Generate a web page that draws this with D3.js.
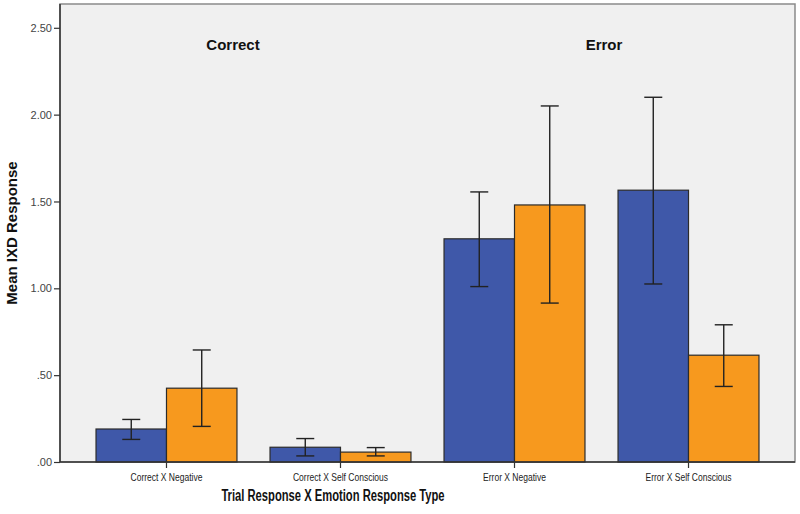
<!DOCTYPE html>
<html lang="en">
  <head>
    <meta charset="UTF-8">
    <title>Mean IXD Response</title>
    <style>
body {margin: 0; background: #fff;}
text {font-family: "Liberation Sans", Arial, sans-serif;}
</style>
  </head>
  <body>
<div id="my_dataviz"></div>
<script src="https://d3js.org/d3.v7.min.js"></script>
<script>

// categories and series
var categories = ["Correct X Negative", "Correct X Self Conscious", "Error X Negative", "Error X Self Conscious"];
var series = ["blue", "orange"];

var blueMean = [0.19, 0.085, 1.285, 1.565];
var blueLow = [0.13, 0.035, 1.01, 1.025];
var blueHigh = [0.245, 0.135, 1.555, 2.10];

var orangeMean = [0.425, 0.057, 1.48, 0.615];
var orangeLow = [0.205, 0.035, 0.915, 0.435];
var orangeHigh = [0.645, 0.083, 2.05, 0.79];

var yTicks = [0, 0.5, 1.0, 1.5, 2.0, 2.5];

var groupLabels = [
  {text: "Correct", x: 233},
  {text: "Error", x: 604}
];

var colors = {blue: "#3f58a9", orange: "#f7991e"};

// build the rows
var rows = [];
categories.forEach(function(c, i) {
  rows.push({cat: c, s: "blue", mean: blueMean[i], low: blueLow[i], high: blueHigh[i]});
  rows.push({cat: c, s: "orange", mean: orangeMean[i], low: orangeLow[i], high: orangeHigh[i]});
});

var W = 800, H = 514;
var plot = {left: 60, right: 795, top: 4, bottom: 462};

// squeeze a text so it looks like a condensed face
function condense(sel, k) {
  sel.each(function() {
    var w = this.getComputedTextLength();
    d3.select(this).attr("textLength", w * k).attr("lengthAdjust", "spacingAndGlyphs");
  });
}

var svg = d3.select("#my_dataviz")
  .append("svg")
    .attr("width", W)
    .attr("height", H);

// panel
svg.append("rect")
  .attr("x", plot.left).attr("y", plot.top)
  .attr("width", plot.right - plot.left).attr("height", plot.bottom - plot.top)
  .attr("fill", "#f0f0f0")
  .attr("stroke", "#8a8a8a")
  .attr("stroke-width", 1.5);

var x = d3.scaleBand()
  .domain(categories)
  .range([plot.left, plot.right])
  .paddingInner(0.19)
  .paddingOuter(0.207);

var xs = d3.scaleBand()
  .domain(series)
  .range([0, x.bandwidth()]);

var y = d3.scaleLinear()
  .domain([0, 2.637])
  .range([plot.bottom, plot.top]);

// group titles
svg.selectAll(".grp")
  .data(groupLabels)
  .enter()
  .append("text")
    .attr("x", function(d) { return d.x; })
    .attr("y", 50)
    .attr("text-anchor", "middle")
    .style("font-weight", "bold")
    .style("font-size", "15px")
    .attr("fill", "#111")
    .text(function(d) { return d.text; });

// bars
svg.selectAll(".bar")
  .data(rows)
  .enter()
  .append("rect")
    .attr("x", function(d) { return x(d.cat) + xs(d.s); })
    .attr("y", function(d) { return y(d.mean); })
    .attr("width", xs.bandwidth())
    .attr("height", function(d) { return y(0) - y(d.mean); })
    .attr("fill", function(d) { return colors[d.s]; })
    .attr("stroke", "#2b2b2b")
    .attr("stroke-width", 1.2);

// error bars
var eb = svg.selectAll(".err")
  .data(rows)
  .enter()
  .append("g")
    .attr("transform", function(d) { return "translate(" + (x(d.cat) + xs(d.s) + xs.bandwidth() / 2) + ",0)"; })
    .attr("stroke", "#222")
    .attr("stroke-width", 1.4);

eb.append("line")
  .attr("y1", function(d) { return y(d.low); })
  .attr("y2", function(d) { return y(d.high); });
eb.append("line")
  .attr("x1", -9).attr("x2", 9)
  .attr("y1", function(d) { return y(d.high); })
  .attr("y2", function(d) { return y(d.high); });
eb.append("line")
  .attr("x1", -9).attr("x2", 9)
  .attr("y1", function(d) { return y(d.low); })
  .attr("y2", function(d) { return y(d.low); });

// Y axis
var fmt = function(v) { return d3.format(".2f")(v).replace(/^0/, ""); };
var yAxis = svg.append("g")
  .attr("transform", "translate(" + plot.left + ",0)")
  .call(d3.axisLeft(y).tickValues(yTicks).tickFormat(fmt).tickSize(6).tickPadding(2));
yAxis.select(".domain").attr("stroke", "#333").attr("stroke-width", 1.5)
  .attr("d", "M0," + plot.top + "V" + plot.bottom);
yAxis.selectAll(".tick line").attr("stroke", "#333").attr("stroke-width", 1.2);
yAxis.selectAll(".tick text")
  .style("font-family", "'Liberation Sans', Arial, sans-serif")
  .style("font-size", "11px")
  .attr("fill", "#444");

// X axis
var xAxis = svg.append("g")
  .attr("transform", "translate(0," + plot.bottom + ")")
  .call(d3.axisBottom(x).tickSize(6).tickPadding(5));
xAxis.select(".domain").attr("stroke", "#333").attr("stroke-width", 1.5)
  .attr("d", "M" + plot.left + ",0H" + plot.right);
xAxis.selectAll(".tick line").attr("stroke", "#333").attr("stroke-width", 1.2);
xAxis.selectAll(".tick text")
  .style("font-family", "'Liberation Sans', Arial, sans-serif")
  .style("font-size", "11.5px")
  .attr("fill", "#222")
  .call(condense, 0.74);

// axis titles
svg.append("text")
  .attr("x", 333)
  .attr("y", 501)
  .attr("text-anchor", "middle")
  .style("font-weight", "bold")
  .style("font-size", "16px")
  .attr("fill", "#111")
  .text("Trial Response X Emotion Response Type")
  .call(condense, 0.7);

svg.append("text")
  .attr("transform", "translate(17,233) rotate(-90)")
  .attr("text-anchor", "middle")
  .style("font-weight", "bold")
  .style("font-size", "15px")
  .attr("fill", "#111")
  .text("Mean IXD Response");

</script>
  </body>
</html>
